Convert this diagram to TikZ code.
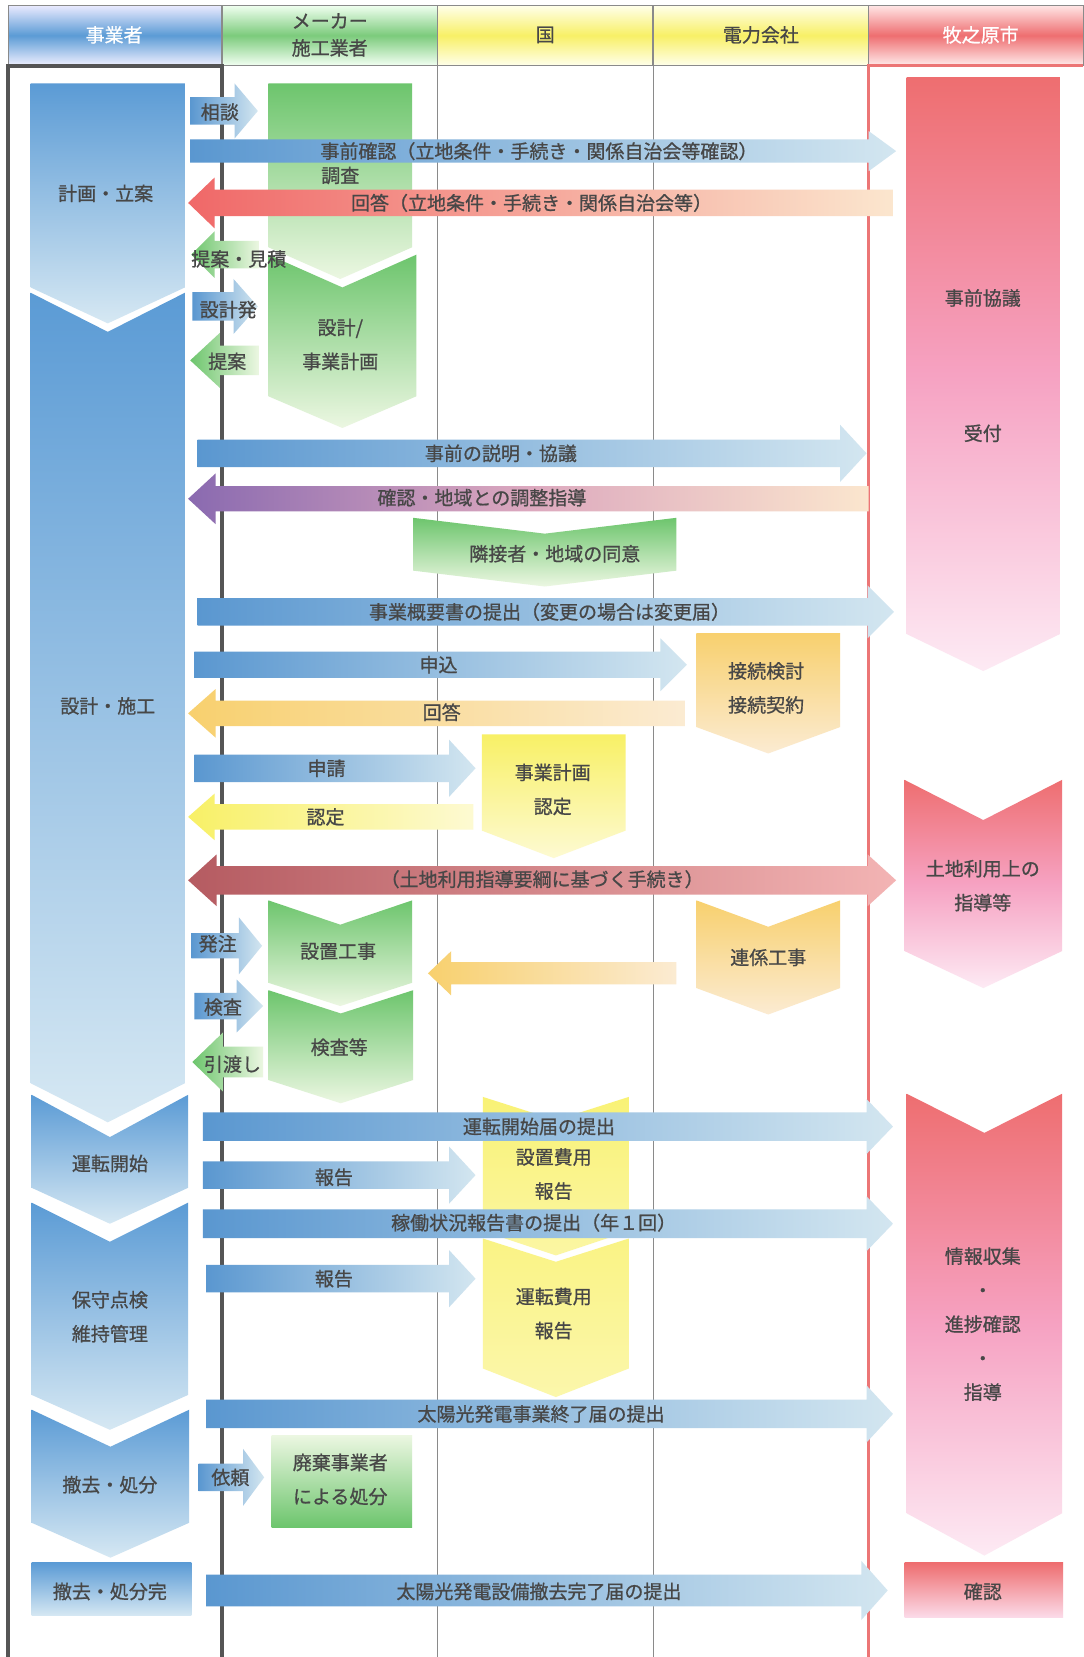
\documentclass[tikz,border=0pt]{standalone}
\usepackage{fontspec}
\setmainfont{Noto Sans CJK JP}
\newfontfamily\lblfont{Noto Sans CJK JP}[FakeBold=0.9]
\usepackage{tikz}
\usetikzlibrary{positioning}

\definecolor{txt}{HTML}{474747}
\definecolor{blueA}{HTML}{5A97D0}
\definecolor{blueB}{HTML}{D3E6F0}
\definecolor{stageA}{HTML}{5B9BD5}
\definecolor{stageB}{HTML}{D6E8F3}
\definecolor{greenA}{HTML}{6DC56D}
\definecolor{greenB}{HTML}{ECF7E2}
\definecolor{orangeA}{HTML}{F8D06E}
\definecolor{orangeB}{HTML}{FBEBD2}
\definecolor{yellowA}{HTML}{F8F066}
\definecolor{yellowB}{HTML}{FDFAD2}
\definecolor{pinkA}{HTML}{EE6E70}
\definecolor{pinkM}{HTML}{F6A2C2}
\definecolor{pinkB}{HTML}{FDEAF4}
\definecolor{redA}{HTML}{F06868}
\definecolor{peach}{HTML}{FBE6CE}
\definecolor{purpA}{HTML}{8A6AB0}
\definecolor{purpM}{HTML}{DCA8BE}
\definecolor{landA}{HTML}{B55B61}
\definecolor{landB}{HTML}{F3B4B4}
\definecolor{colline}{HTML}{8A8A8A}
\definecolor{boxline}{HTML}{555555}
\definecolor{cityline}{HTML}{EC7676}

% x1 x2 yc halfbody halfhead headlen
\newcommand{\rightblock}[7][]{\path[#1] (#2,{#4-#5}) -- ({#3-#7},{#4-#5}) -- ({#3-#7},{#4-#6}) -- (#3,#4) -- ({#3-#7},{#4+#6}) -- ({#3-#7},{#4+#5}) -- (#2,{#4+#5}) -- cycle;}
\newcommand{\leftblock}[7][]{\path[#1] (#3,{#4-#5}) -- ({#2+#7},{#4-#5}) -- ({#2+#7},{#4-#6}) -- (#2,#4) -- ({#2+#7},{#4+#6}) -- ({#2+#7},{#4+#5}) -- (#3,{#4+#5}) -- cycle;}
\newcommand{\bothblock}[7][]{\path[#1] (#2,#4) -- ({#2+#7},{#4-#6}) -- ({#2+#7},{#4-#5}) -- ({#3-#7},{#4-#5}) -- ({#3-#7},{#4-#6}) -- (#3,#4) -- ({#3-#7},{#4+#6}) -- ({#3-#7},{#4+#5}) -- ({#2+#7},{#4+#5}) -- ({#2+#7},{#4+#6}) -- cycle;}
% x1 x2 ytop ynotch ycorner ytip
\newcommand{\chevblock}[7][]{\path[#1] (#2,#4) -- ({(#2+#3)/2},#5) -- (#3,#4) -- (#3,#6) -- ({(#2+#3)/2},#7) -- (#2,#6) -- cycle;}

\begin{document}
\begin{tikzpicture}[x=0.5283pt,y=-0.5283pt,
        lbl/.style={font=\lblfont\fontsize{9.5}{17}\selectfont, text=txt, inner sep=0pt, align=center},
        hdr/.style={font=\lblfont\fontsize{9.5}{13.5}\selectfont, text=txt, inner sep=0pt, align=center},
        bluearr/.style={left color=blueA, right color=blueB},
        greenarr/.style={left color=greenA, right color=greenB},
        redarr/.style={left color=redA, right color=peach},
        purparr/.style={left color=purpA, right color=peach, middle color=purpM},
        orangearr/.style={left color=orangeA, right color=orangeB},
        yellowarr/.style={left color=yellowA, right color=yellowB},
        landarr/.style={left color=landA, right color=landB},
        stage/.style={top color=stageA, bottom color=stageB},
        greenblk/.style={top color=greenA, bottom color=greenB},
        orangeblk/.style={top color=orangeA, bottom color=orangeB},
        yellowblk/.style={top color=yellowA, bottom color=yellowB},
        pinkblk/.style={top color=pinkA, bottom color=pinkB, middle color=pinkM},
        hdline/.style={colline, line width=0.6pt}]
        \useasboundingbox (0,0) rectangle (1025,1568);
        \fill[white] (0,0) rectangle (1025,1568);
        \path[top color=blue!8, bottom color=blue!6, middle color=stageA] (8,5) rectangle (210,62);
        \path[top color=green!6, bottom color=green!5, middle color=greenA!90] (210,5) rectangle (414,62);
        \path[top color=yellow!8, bottom color=yellow!8, middle color=yellowA] (414,5) rectangle (618,62);
        \path[top color=yellow!8, bottom color=yellow!8, middle color=yellowA] (618,5) rectangle (822,62);
        \path[top color=red!10, bottom color=red!8, middle color=pinkA] (822,5) rectangle (1025,62);
        \draw[hdline] (8,5) rectangle (1025,62);
        \foreach \cx in {210,414,618,822} \draw[hdline] (\cx,5) -- (\cx,62);
        \draw[colline, line width=0.5pt] (414,62) -- (414,1568);
        \draw[colline, line width=0.5pt] (618,62) -- (618,1568);
        \draw[boxline, line width=2pt] (8,1568) -- (8,62) -- (210,62) -- (210,1568);
        \draw[cityline, line width=1.6pt] (822,1568) -- (822,62) -- (1025,62);
        \node[hdr, text=white] at (108,33) (jigyosha) {事業者};
        \node[hdr] at (312,33) (maker) {メーカー\\施工業者};
        \node[hdr] at (516,33) (kuni) {国};
        \node[hdr] at (720,33) (denryoku) {電力会社};
        \node[hdr, text=white] at (928,33) (shi) {牧之原市};
        \chevblock[stage]{29}{175}{79}{79}{272}{306}
        \chevblock[stage]{29}{175}{277}{314}{1025}{1062}
        \chevblock[stage]{30}{178}{1036}{1076}{1124}{1158}
        \chevblock[stage]{30}{178}{1138}{1175}{1320}{1353}
        \chevblock[stage]{30}{179}{1334}{1369}{1441}{1474}
        \path[stage] (30,1479) rectangle (181,1529);
        \chevblock[greenblk]{254}{390}{79}{79}{234}{264}
        \chevblock[greenblk]{254}{394}{241}{272}{375}{405}
        \chevblock[greenblk]{391}{640}{490}{505}{540}{555}
        \chevblock[greenblk]{254}{390}{852}{875}{930}{952}
        \chevblock[greenblk]{254}{391}{937}{959}{1022}{1044}
        \path[bottom color=greenA, top color=greenB] (257,1358) rectangle (390,1445);
        \chevblock[orangeblk]{659}{795}{599}{599}{688}{713}
        \chevblock[orangeblk]{659}{795}{852}{877}{935}{960}
        \chevblock[yellowblk]{456}{592}{695}{695}{786}{812}
        \chevblock[top color=yellowA!90, bottom color=yellowA!60]{457}{595}{1038}{1060}{1165}{1188}
        \chevblock[top color=yellowA!80, bottom color=yellowA!55]{457}{595}{1172}{1194}{1295}{1322}
        \chevblock[pinkblk]{858}{1003}{73}{73}{600}{635}
        \chevblock[pinkblk]{856}{1005}{738}{776}{900}{935}
        \chevblock[pinkblk]{858}{1005}{1035}{1072}{1432}{1472}
        \path[top color=pinkA, bottom color=pinkB!80!pinkM] (856,1479) rectangle (1006,1531);
        \rightblock[bluearr]{180}{244}{105}{13}{26}{22}
        \rightblock[bluearr]{180}{848}{143}{11}{19}{26}
        \leftblock[redarr]{178}{845}{192}{12.5}{24}{25}
        \leftblock[greenarr]{181}{245}{241}{13}{22}{22}
        \rightblock[bluearr]{182}{244}{290}{13.5}{26}{23}
        \leftblock[greenarr]{180}{245}{341}{14}{26}{28}
        \rightblock[bluearr]{187}{820}{429}{13}{27}{25}
        \leftblock[purparr]{178}{822}{472}{12}{24}{26}
        \rightblock[bluearr]{187}{846}{579}{13}{25}{25}
        \rightblock[bluearr]{184}{650}{629}{12.5}{25}{25}
        \leftblock[orangearr]{178}{648}{675}{12}{23}{26}
        \rightblock[bluearr]{184}{450}{727}{13}{27}{25}
        \leftblock[yellowarr]{178}{448}{773}{12}{22}{25}
        \bothblock[landarr]{178}{848}{833}{13.5}{24.5}{27}
        \rightblock[bluearr]{181}{248}{895}{12}{27}{22}
        \leftblock[orangearr]{405}{640}{921}{10.5}{21}{22}
        \rightblock[bluearr]{184}{249}{952}{12.5}{25}{25}
        \leftblock[greenarr]{182}{249}{1005}{14.5}{28}{29}
        \rightblock[bluearr]{192}{845}{1066}{13.5}{26}{25}
        \rightblock[bluearr]{192}{450}{1112}{13}{27}{25}
        \rightblock[bluearr]{192}{845}{1158}{13.5}{26}{25}
        \rightblock[bluearr]{195}{450}{1210}{13}{27}{25}
        \rightblock[bluearr]{195}{845}{1338}{13.5}{27}{25}
        \rightblock[bluearr]{188}{250}{1398}{13}{27}{20}
        \rightblock[bluearr]{195}{840}{1505}{15}{28}{25}
        \node[lbl] at (100,183) (keikaku) {計画・立案};
        \node[lbl] at (102,668) (sekkei) {設計・施工};
        \node[lbl] at (104,1101) (untenkaishi) {運転開始};
        \node[lbl] at (104,1246) (hoshu) {保守点検\\維持管理};
        \node[lbl] at (104,1405) (tekkyo) {撤去・処分};
        \node[lbl] at (104,1506) (tekkyokan) {撤去・処分完};
        \node[lbl] at (208,106) (soudan) {相談};
        \node[lbl] at (510,143) (jizenkakunin) {事前確認（立地条件・手続き・関係自治会等確認）};
        \node[lbl] at (322,166) (chousa) {調査};
        \node[lbl] at (503,192) (kaitou) {回答（立地条件・手続き・関係自治会等）};
        \node[lbl] at (226,245) (teianmitsumori) {提案・見積};
        \node[lbl] at (216,293) (sekkeihatsu) {設計発};
        \node[lbl] at (322,326) (sekkeikeikaku) {設計/\\事業計画};
        \node[lbl] at (215,342) (teian) {提案};
        \node[lbl] at (930,282) (jizenkyogi) {事前協議};
        \node[lbl] at (930,410) (uketsuke) {受付};
        \node[lbl] at (474,429) (setsumei) {事前の説明・協議};
        \node[lbl] at (456,471) (chousei) {確認・地域との調整指導};
        \node[lbl] at (525,524) (doui) {隣接者・地域の同意};
        \node[lbl] at (520,579) (gaiyou) {事業概要書の提出（変更の場合は変更届）};
        \node[lbl] at (415,629) (moushikomi) {申込};
        \node[lbl] at (725,651) (setsuzoku) {接続検討\\接続契約};
        \node[lbl] at (418,674) (kaitou2) {回答};
        \node[lbl] at (309,727) (shinsei) {申請};
        \node[lbl] at (523,747) (nintei) {事業計画\\認定};
        \node[lbl] at (308,773) (nintei2) {認定};
        \node[lbl] at (513,832) (tochi) {（土地利用指導要綱に基づく手続き）};
        \node[lbl] at (930,838) (shidou) {土地利用上の\\指導等};
        \node[lbl] at (206,893) (hacchu) {発注};
        \node[lbl] at (320,900) (setchi) {設置工事};
        \node[lbl] at (727,906) (renkei) {連係工事};
        \node[lbl] at (211,953) (kensa) {検査};
        \node[lbl] at (321,991) (kensatou) {検査等};
        \node[lbl] at (220,1007) (hikiwatashi) {引渡し};
        \node[lbl] at (510,1066) (kaishitodoke) {運転開始届の提出};
        \node[lbl] at (524,1111) (setchihiyou) {設置費用\\報告};
        \node[lbl] at (316,1114) (houkoku1) {報告};
        \node[lbl] at (505,1157) (kadou) {稼働状況報告書の提出（年１回）};
        \node[lbl] at (316,1210) (houkoku2) {報告};
        \node[lbl] at (524,1243) (untenhiyou) {運転費用\\報告};
        \node[lbl] at (930,1253) (jouhou) {情報収集\\・\\進捗確認\\・\\指導};
        \node[lbl] at (512,1338) (shuuryou) {太陽光発電事業終了届の提出};
        \node[lbl] at (218,1398) (irai) {依頼};
        \node[lbl] at (322,1400) (haiki) {廃棄事業者\\による処分};
        \node[lbl] at (510,1506) (kanryou) {太陽光発電設備撤去完了届の提出};
        \node[lbl] at (930,1506) (kakunin) {確認};
\end{tikzpicture}
\end{document}
